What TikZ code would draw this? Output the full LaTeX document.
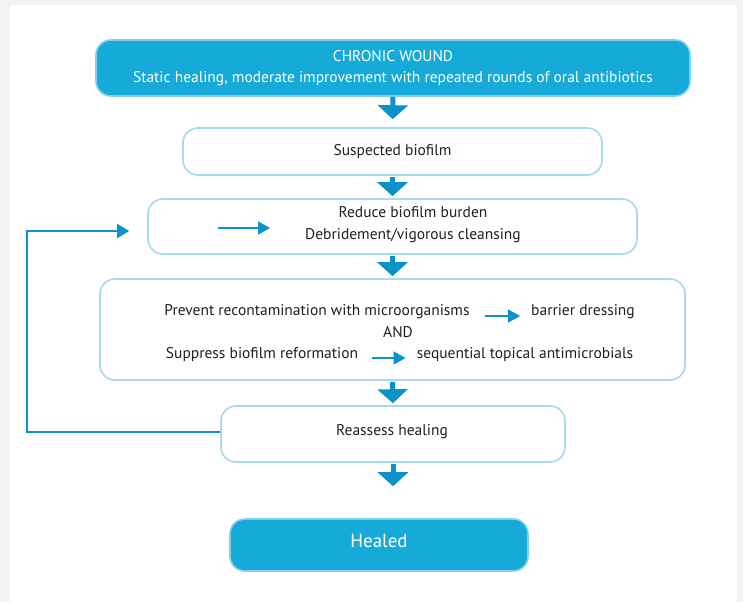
\documentclass[tikz,border=0pt]{standalone}
\usepackage{fontspec}
\setmainfont{PT Sans}
\usetikzlibrary{arrows.meta}

\definecolor{wound}{HTML}{15AAD7}
\definecolor{woundline}{HTML}{86CDEA}
\definecolor{boxline}{HTML}{A6D9EF}
\definecolor{arrowblue}{HTML}{0A93C8}
\definecolor{pagegrey}{HTML}{F3F3F3}
\definecolor{ink}{HTML}{231F20}

\begin{document}
\begin{tikzpicture}[x=1pt,y=-1pt,
    box/.style={draw=boxline,line width=1.6pt,rounded corners=15pt,fill=white,
      align=center,inner sep=0pt,text=ink,font=\fontsize{15.5}{21}\selectfont},
    endbox/.style={box,draw=woundline,fill=wound,text=white},
    txt/.style={inner sep=0pt,text=ink,align=center,font=\fontsize{15.5}{22}\selectfont},
    downarrow/.style={draw=arrowblue,line width=5pt,-{Triangle[width=30pt,length=14pt]}},
    smallarrow/.style={draw=arrowblue,line width=1.6pt,-{Triangle[width=13pt,length=12pt]}},
    looparrow/.style={draw=arrowblue,line width=2pt,-{Triangle[width=14pt,length=12pt]}}]
  \useasboundingbox (0,0) rectangle (743,602);
  \fill[pagegrey] (0,0) rectangle (743,602);
  \fill[white] (10,5) rectangle (737,602);

  % boxes
  \node[endbox,minimum width=594pt,minimum height=56pt] (wound) at (393,68)
    {CHRONIC WOUND\\Static healing, moderate improvement with repeated rounds of oral antibiotics};
  \node[box,minimum width=419pt,minimum height=47pt] (suspect) at (392.5,151.5) {Suspected biofilm};
  \node[box,minimum width=489pt,minimum height=55pt] (reduce) at (392.5,226.5) {};
  \node[box,minimum width=585pt,minimum height=101pt] (prevent) at (392.5,329.5) {};
  \node[box,minimum width=344pt,minimum height=56pt] (reassess) at (393,434) {};
  \node[endbox,minimum width=298pt,minimum height=52pt,text depth=8pt,
    font=\fontsize{19}{22}\selectfont] (healed) at (379,545) {Healed};

  % texts inside the boxes
  \node[txt] (reducetxt) at (413,225) {Reduce biofilm burden\\Debridement/vigorous cleansing};
  \node[txt] (prev) at (317,312) {Prevent recontamination with microorganisms};
  \node[txt] (barrier) at (583,312) {barrier dressing};
  \node[txt] (and) at (398,332) {AND};
  \node[txt] (suppress) at (262,355) {Suppress biofilm reformation};
  \node[txt] (seq) at (525,355) {sequential topical antimicrobials};
  \node[txt] (reasstxt) at (392,432) {Reassess healing};
  \coordinate (rin) at (218,228);
  \coordinate (loop) at (27,0);

  % main flow
  \draw[downarrow,shorten >=8pt] (wound.south) -- (suspect.north);
  \foreach \a/\b in {suspect/reduce,reduce/prevent,prevent/reassess}
    \draw[downarrow,shorten <=1pt,shorten >=2pt] (\a.south) -- (\b.north);
  \draw[downarrow,shorten <=1pt,shorten >=32pt] (reassess.south) -- (reassess.south |- healed.north);

  % side arrows
  \draw[smallarrow,shorten >=35pt] (rin) -- (rin -| reducetxt.west);
  \draw[smallarrow,shorten <=15pt,shorten >=11pt] ([yshift=-4pt]prev.east) -- ([yshift=-4pt]prev.east -| barrier.west);
  \draw[smallarrow,shorten <=14pt,shorten >=11pt] ([yshift=-3pt]suppress.east) -- ([yshift=-3pt]suppress.east -| seq.west);

  % back to the start
  \draw[looparrow,shorten >=18pt] ([yshift=2pt]reassess.west) -- ([yshift=2pt]reassess.west -| loop) |- ([yshift=-4.5pt]reduce.west);
\end{tikzpicture}
\end{document}
